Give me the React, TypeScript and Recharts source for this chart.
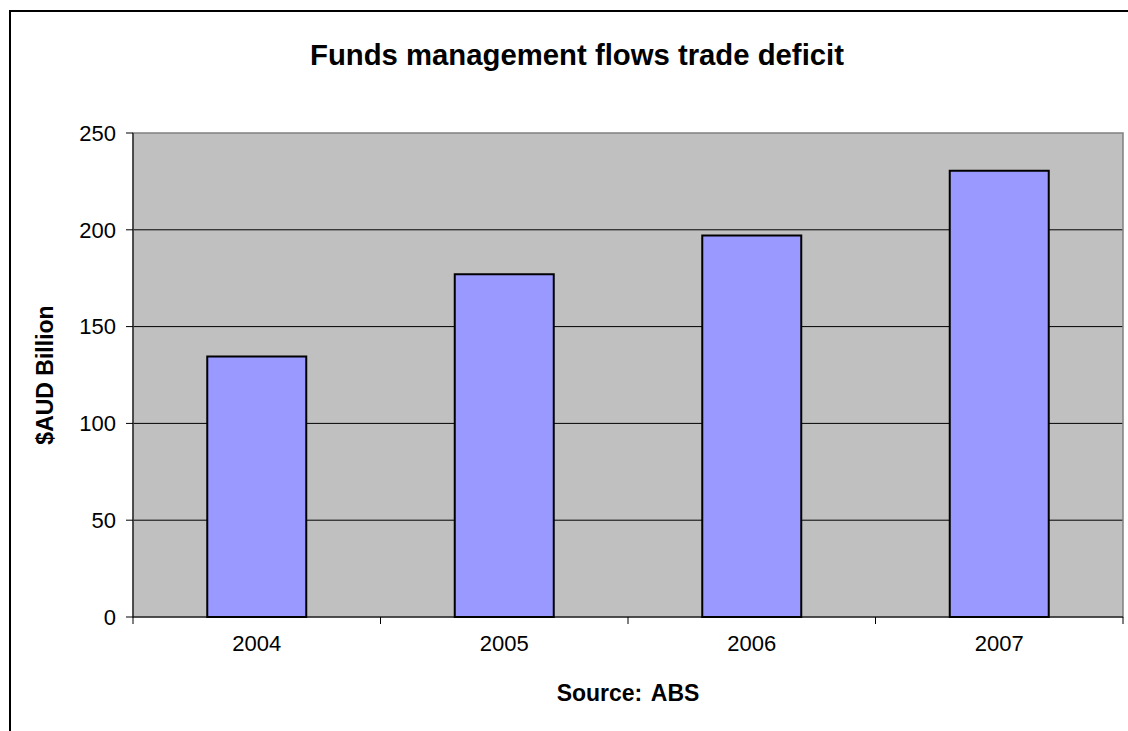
import { Bar, BarChart, CartesianGrid, ReferenceArea, XAxis, YAxis } from 'recharts';

const years = ['2004', '2005', '2006', '2007'];
const deficit = [134.5, 177, 197, 230.5];
const yTicks = [0, 50, 100, 150, 200, 250];

const data = years.map((year, i) => ({ year, value: deficit[i] }));

const CHART_W = 1120;
const CHART_H = 723;
const MARGIN = { top: 125, right: 5, bottom: 74, left: 0 };
const Y_AXIS_W = 125;
const PLOT_W = CHART_W - MARGIN.left - MARGIN.right - Y_AXIS_W;
const BAND = PLOT_W / years.length;

const FONT = '"Liberation Sans", Arial, sans-serif';

const YearTick = ({ x, y, payload, index }: { x?: number; y?: number; payload?: { value: string }; index?: number }) => {
    const cx = Number(x);
    const cy = Number(y);
    return (
        <g>
            <line x1={cx - BAND / 2} x2={cx - BAND / 2} y1={cy} y2={cy + 7} stroke='#000' />
            {index === years.length - 1 ? (
                <line x1={cx + BAND / 2} x2={cx + BAND / 2} y1={cy} y2={cy + 7} stroke='#000' />
            ) : null}
            <text x={cx} y={cy + 34} textAnchor='middle' fill='#000' fontSize={22} fontFamily={FONT}>
                {payload?.value}
            </text>
        </g>
    );
};

export default function App() {
    return (
        <div style={{ position: 'relative', width: 1128, height: 731, overflow: 'hidden', background: '#fff' }}>
            <style>{'body { margin: 0; }'}</style>
            <div style={{ position: 'absolute', left: 8, top: 8, width: CHART_W, height: CHART_H }}>
                <div
                    style={{
                        position: 'absolute',
                        left: 1,
                        top: 2,
                        width: 2000,
                        height: 2000,
                        borderLeft: '2px solid #000',
                        borderTop: '2px solid #000',
                    }}
                />
                <div
                    style={{
                        position: 'absolute',
                        left: 569 - 400,
                        width: 800,
                        top: 30,
                        textAlign: 'center',
                        fontFamily: FONT,
                        fontWeight: 'bold',
                        fontSize: 29.3,
                        lineHeight: '34px',
                    }}
                >
                    Funds management flows trade deficit
                </div>
                <div
                    style={{
                        position: 'absolute',
                        left: 37 - 150,
                        top: 367 - 14,
                        width: 300,
                        height: 28,
                        lineHeight: '28px',
                        textAlign: 'center',
                        transform: 'rotate(-90deg)',
                        fontFamily: FONT,
                        fontWeight: 'bold',
                        fontSize: 23,
                    }}
                >
                    $AUD Billion
                </div>
                <div
                    style={{
                        position: 'absolute',
                        left: 620 - 200,
                        width: 400,
                        top: 671,
                        lineHeight: '28px',
                        textAlign: 'center',
                        fontFamily: FONT,
                        fontWeight: 'bold',
                        fontSize: 23,
                        wordSpacing: 3,
                    }}
                >
                    Source: ABS
                </div>
                <div style={{ position: 'absolute', left: 0, top: 0 }}>
                    <BarChart width={CHART_W} height={CHART_H} data={data} margin={MARGIN} barCategoryGap='30%'>
                        <CartesianGrid
                            vertical={false}
                            horizontalValues={[50, 100, 150, 200]}
                            stroke='#000'
                            fill='#C0C0C0'
                        />
                        <ReferenceArea
                            y1={0}
                            y2={250}
                            fill='none'
                            stroke='#808080'
                            strokeWidth={1.5}
                            ifOverflow='visible'
                        />
                        <XAxis
                            dataKey='year'
                            axisLine={{ stroke: '#000' }}
                            tickLine={false}
                            tickSize={0}
                            tickMargin={0}
                            height={40}
                            interval={0}
                            tick={<YearTick />}
                        />
                        <YAxis
                            type='number'
                            domain={[0, 250]}
                            ticks={yTicks}
                            width={Y_AXIS_W}
                            axisLine={{ stroke: '#000' }}
                            tickLine={{ stroke: '#000' }}
                            tickSize={7}
                            tickMargin={10}
                            interval={0}
                            tick={{ fill: '#000', fontSize: 22, fontFamily: FONT }}
                        />
                        <Bar dataKey='value' fill='#9999FF' stroke='#000' strokeWidth={2} isAnimationActive={false} />
                    </BarChart>
                </div>
            </div>
        </div>
    );
}
